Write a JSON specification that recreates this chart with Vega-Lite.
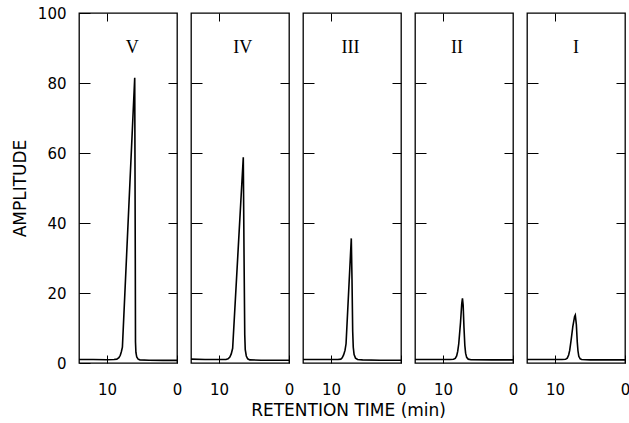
{
  "$schema": "https://vega.github.io/schema/vega-lite/v6.json",
  "padding": {"left": 10, "top": 5, "right": 0, "bottom": 0},
  "spacing": 4,
  "title": {"text": "RETENTION TIME (min)", "orient": "bottom", "anchor": "middle", "frame": "bounds", "dx": 28, "offset": 5,
            "font": "DejaVu Sans", "fontSize": 17, "fontWeight": "normal", "color": "#000"},
  "datasets": {
    "peaks": [
      {"p":"V","t":14,"a":1.0},{"p":"V","t":12,"a":1.0},{"p":"V","t":10,"a":0.95},{"p":"V","t":9,"a":1.0},{"p":"V","t":8.6,"a":1.1},{"p":"V","t":8.3,"a":1.5},{"p":"V","t":8.1,"a":2.2},{"p":"V","t":7.95,"a":3.2},{"p":"V","t":7.8,"a":4.5},{"p":"V","t":6.04,"a":81.5},{"p":"V","t":5.96,"a":30},{"p":"V","t":5.93,"a":6},{"p":"V","t":5.87,"a":3},{"p":"V","t":5.75,"a":1.7},{"p":"V","t":5.55,"a":1.1},{"p":"V","t":5.3,"a":0.9},{"p":"V","t":4,"a":0.8},{"p":"V","t":2,"a":0.75},{"p":"V","t":0,"a":0.75},
      {"p":"IV","t":14,"a":1.1},{"p":"IV","t":12,"a":1.0},{"p":"IV","t":10,"a":1.0},{"p":"IV","t":9,"a":1.0},{"p":"IV","t":8.7,"a":1.2},{"p":"IV","t":8.45,"a":1.7},{"p":"IV","t":8.25,"a":2.6},{"p":"IV","t":8.05,"a":4.2},{"p":"IV","t":6.53,"a":58.8},{"p":"IV","t":6.42,"a":30},{"p":"IV","t":6.32,"a":8},{"p":"IV","t":6.25,"a":3.8},{"p":"IV","t":6.1,"a":2.0},{"p":"IV","t":5.9,"a":1.2},{"p":"IV","t":5.6,"a":0.9},{"p":"IV","t":4,"a":0.8},{"p":"IV","t":2,"a":0.8},{"p":"IV","t":0,"a":0.8},
      {"p":"III","t":14,"a":1.0},{"p":"III","t":12,"a":1.0},{"p":"III","t":10,"a":1.0},{"p":"III","t":9,"a":1.0},{"p":"III","t":8.6,"a":1.1},{"p":"III","t":8.4,"a":1.5},{"p":"III","t":8.2,"a":2.3},{"p":"III","t":8.0,"a":3.6},{"p":"III","t":7.85,"a":5.5},{"p":"III","t":7.1,"a":35.6},{"p":"III","t":7.0,"a":24},{"p":"III","t":6.9,"a":9},{"p":"III","t":6.82,"a":4.5},{"p":"III","t":6.7,"a":2.4},{"p":"III","t":6.5,"a":1.4},{"p":"III","t":6.2,"a":1.0},{"p":"III","t":5.5,"a":0.9},{"p":"III","t":3,"a":0.8},{"p":"III","t":0,"a":0.8},
      {"p":"II","t":14,"a":1.0},{"p":"II","t":11,"a":1.0},{"p":"II","t":9,"a":1.0},{"p":"II","t":8.5,"a":1.05},{"p":"II","t":8.25,"a":1.3},{"p":"II","t":8.05,"a":2.0},{"p":"II","t":7.9,"a":3.3},{"p":"II","t":7.75,"a":5.5},{"p":"II","t":7.5,"a":11.5},{"p":"II","t":7.32,"a":17},{"p":"II","t":7.22,"a":18.5},{"p":"II","t":7.12,"a":16.5},{"p":"II","t":7.0,"a":10},{"p":"II","t":6.88,"a":5},{"p":"II","t":6.77,"a":2.8},{"p":"II","t":6.62,"a":1.6},{"p":"II","t":6.4,"a":1.1},{"p":"II","t":6.0,"a":0.95},{"p":"II","t":3,"a":0.9},{"p":"II","t":0,"a":0.9},
      {"p":"I","t":14,"a":1.0},{"p":"I","t":11,"a":1.0},{"p":"I","t":9,"a":1.0},{"p":"I","t":8.5,"a":1.05},{"p":"I","t":8.25,"a":1.4},{"p":"I","t":8.05,"a":2.3},{"p":"I","t":7.9,"a":3.6},{"p":"I","t":7.7,"a":6.5},{"p":"I","t":7.45,"a":10.5},{"p":"I","t":7.2,"a":13.3},{"p":"I","t":7.1,"a":13.7},{"p":"I","t":6.95,"a":11},{"p":"I","t":6.82,"a":6},{"p":"I","t":6.72,"a":3.5},{"p":"I","t":6.6,"a":1.9},{"p":"I","t":6.4,"a":1.2},{"p":"I","t":6.2,"a":1.0},{"p":"I","t":5,"a":0.9},{"p":"I","t":0,"a":0.9}
    ],
    "labels": [{"p":"V"},{"p":"IV"},{"p":"III"},{"p":"II"},{"p":"I"}]
  },
  "hconcat": [
    {
      "width": 98, "height": 350,
      "layer": [
        {"data": {"name": "peaks"}, "transform": [{"filter": "datum.p == 'V'"}],
         "mark": {"type": "line", "color": "#000", "strokeWidth": 1.6},
         "encoding": {
           "x": {"field": "t", "type": "quantitative", "scale": {"domain": [14, 0], "nice": false, "zero": false},
                 "axis": {"orient": "bottom", "values": [10, 0], "tickSize": -8, "labelPadding": 27, "title": null}},
           "y": {"field": "a", "type": "quantitative", "scale": {"domain": [0, 100], "nice": false},
                 "axis": {"orient": "left", "values": [0, 20, 40, 60, 80, 100], "tickSize": -11, "labelPadding": 24, "title": "AMPLITUDE", "titlePadding": 8}}
         }},
        {"data": {"name": "peaks"}, "transform": [{"filter": "datum.p == 'V'"}],
         "mark": {"type": "line", "opacity": 0},
         "encoding": {
           "x": {"field": "t", "type": "quantitative", "axis": {"orient": "top", "values": [10], "tickSize": -8, "labels": false, "title": null}},
           "y": {"field": "a", "type": "quantitative", "axis": {"orient": "right", "values": [20, 40, 60, 80], "tickSize": -9, "labels": false, "title": null}}
         }},
        {"data": {"name": "labels"}, "transform": [{"filter": "datum.p == 'V'"}],
         "mark": {"type": "text", "font": "Liberation Serif", "fontSize": 18, "color": "#000"},
         "encoding": {
           "x": {"datum": 6.4, "type": "quantitative", "axis": null},
           "y": {"datum": 90, "type": "quantitative", "axis": null},
           "text": {"field": "p"}
         }}
      ],
      "resolve": {"axis": {"x": "independent", "y": "independent"}}
    },
    {
      "width": 98, "height": 350,
      "layer": [
        {"data": {"name": "peaks"}, "transform": [{"filter": "datum.p == 'IV'"}],
         "mark": {"type": "line", "color": "#000", "strokeWidth": 1.6},
         "encoding": {
           "x": {"field": "t", "type": "quantitative", "scale": {"domain": [14, 0], "nice": false, "zero": false},
                 "axis": {"orient": "bottom", "values": [10, 0], "tickSize": -8, "labelPadding": 27, "title": null}},
           "y": {"field": "a", "type": "quantitative", "scale": {"domain": [0, 100], "nice": false},
                 "axis": {"orient": "left", "values": [20, 40, 60, 80], "tickSize": -11, "labels": false, "title": null}}
         }},
        {"data": {"name": "peaks"}, "transform": [{"filter": "datum.p == 'IV'"}],
         "mark": {"type": "line", "opacity": 0},
         "encoding": {
           "x": {"field": "t", "type": "quantitative", "axis": {"orient": "top", "values": [10], "tickSize": -8, "labels": false, "title": null}},
           "y": {"field": "a", "type": "quantitative", "axis": {"orient": "right", "values": [20, 40, 60, 80], "tickSize": -9, "labels": false, "title": null}}
         }},
        {"data": {"name": "labels"}, "transform": [{"filter": "datum.p == 'IV'"}],
         "mark": {"type": "text", "font": "Liberation Serif", "fontSize": 18, "color": "#000"},
         "encoding": {
           "x": {"datum": 6.6, "type": "quantitative", "axis": null},
           "y": {"datum": 90, "type": "quantitative", "axis": null},
           "text": {"field": "p"}
         }}
      ],
      "resolve": {"axis": {"x": "independent", "y": "independent"}}
    },
    {
      "width": 98, "height": 350,
      "layer": [
        {"data": {"name": "peaks"}, "transform": [{"filter": "datum.p == 'III'"}],
         "mark": {"type": "line", "color": "#000", "strokeWidth": 1.6},
         "encoding": {
           "x": {"field": "t", "type": "quantitative", "scale": {"domain": [14, 0], "nice": false, "zero": false},
                 "axis": {"orient": "bottom", "values": [10, 0], "tickSize": -8, "labelPadding": 27, "title": null}},
           "y": {"field": "a", "type": "quantitative", "scale": {"domain": [0, 100], "nice": false},
                 "axis": {"orient": "left", "values": [20, 40, 60, 80], "tickSize": -11, "labels": false, "title": null}}
         }},
        {"data": {"name": "peaks"}, "transform": [{"filter": "datum.p == 'III'"}],
         "mark": {"type": "line", "opacity": 0},
         "encoding": {
           "x": {"field": "t", "type": "quantitative", "axis": {"orient": "top", "values": [10], "tickSize": -8, "labels": false, "title": null}},
           "y": {"field": "a", "type": "quantitative", "axis": {"orient": "right", "values": [20, 40, 60, 80], "tickSize": -9, "labels": false, "title": null}}
         }},
        {"data": {"name": "labels"}, "transform": [{"filter": "datum.p == 'III'"}],
         "mark": {"type": "text", "font": "Liberation Serif", "fontSize": 18, "color": "#000"},
         "encoding": {
           "x": {"datum": 7.2, "type": "quantitative", "axis": null},
           "y": {"datum": 90, "type": "quantitative", "axis": null},
           "text": {"field": "p"}
         }}
      ],
      "resolve": {"axis": {"x": "independent", "y": "independent"}}
    },
    {
      "width": 98, "height": 350,
      "layer": [
        {"data": {"name": "peaks"}, "transform": [{"filter": "datum.p == 'II'"}],
         "mark": {"type": "line", "color": "#000", "strokeWidth": 1.6},
         "encoding": {
           "x": {"field": "t", "type": "quantitative", "scale": {"domain": [14, 0], "nice": false, "zero": false},
                 "axis": {"orient": "bottom", "values": [10, 0], "tickSize": -8, "labelPadding": 27, "title": null}},
           "y": {"field": "a", "type": "quantitative", "scale": {"domain": [0, 100], "nice": false},
                 "axis": {"orient": "left", "values": [20, 40, 60, 80], "tickSize": -11, "labels": false, "title": null}}
         }},
        {"data": {"name": "peaks"}, "transform": [{"filter": "datum.p == 'II'"}],
         "mark": {"type": "line", "opacity": 0},
         "encoding": {
           "x": {"field": "t", "type": "quantitative", "axis": {"orient": "top", "values": [10], "tickSize": -8, "labels": false, "title": null}},
           "y": {"field": "a", "type": "quantitative", "axis": {"orient": "right", "values": [20, 40, 60, 80], "tickSize": -9, "labels": false, "title": null}}
         }},
        {"data": {"name": "labels"}, "transform": [{"filter": "datum.p == 'II'"}],
         "mark": {"type": "text", "font": "Liberation Serif", "fontSize": 18, "color": "#000"},
         "encoding": {
           "x": {"datum": 8, "type": "quantitative", "axis": null},
           "y": {"datum": 90, "type": "quantitative", "axis": null},
           "text": {"field": "p"}
         }}
      ],
      "resolve": {"axis": {"x": "independent", "y": "independent"}}
    },
    {
      "width": 98, "height": 350,
      "layer": [
        {"data": {"name": "peaks"}, "transform": [{"filter": "datum.p == 'I'"}],
         "mark": {"type": "line", "color": "#000", "strokeWidth": 1.6},
         "encoding": {
           "x": {"field": "t", "type": "quantitative", "scale": {"domain": [14, 0], "nice": false, "zero": false},
                 "axis": {"orient": "bottom", "values": [10, 0], "tickSize": -8, "labelPadding": 27, "title": null}},
           "y": {"field": "a", "type": "quantitative", "scale": {"domain": [0, 100], "nice": false},
                 "axis": {"orient": "left", "values": [20, 40, 60, 80], "tickSize": -11, "labels": false, "title": null}}
         }},
        {"data": {"name": "peaks"}, "transform": [{"filter": "datum.p == 'I'"}],
         "mark": {"type": "line", "opacity": 0},
         "encoding": {
           "x": {"field": "t", "type": "quantitative", "axis": {"orient": "top", "values": [10], "tickSize": -8, "labels": false, "title": null}},
           "y": {"field": "a", "type": "quantitative", "axis": {"orient": "right", "values": [20, 40, 60, 80], "tickSize": -9, "labels": false, "title": null}}
         }},
        {"data": {"name": "labels"}, "transform": [{"filter": "datum.p == 'I'"}],
         "mark": {"type": "text", "font": "Liberation Serif", "fontSize": 18, "color": "#000"},
         "encoding": {
           "x": {"datum": 7, "type": "quantitative", "axis": null},
           "y": {"datum": 90, "type": "quantitative", "axis": null},
           "text": {"field": "p"}
         }}
      ],
      "resolve": {"axis": {"x": "independent", "y": "independent"}}
    }
  ],
  "config": {
    "view": {"stroke": "#000", "strokeWidth": 1.3},
    "axis": {
      "grid": false, "domain": false, "tickColor": "#000", "tickWidth": 1,
      "labelColor": "#000", "labelFont": "DejaVu Sans", "labelFontSize": 15, "labelFlush": false,
      "labelOverlap": false,
      "titleColor": "#000", "titleFont": "DejaVu Sans", "titleFontSize": 17, "titleFontWeight": "normal"
    }
  }
}
